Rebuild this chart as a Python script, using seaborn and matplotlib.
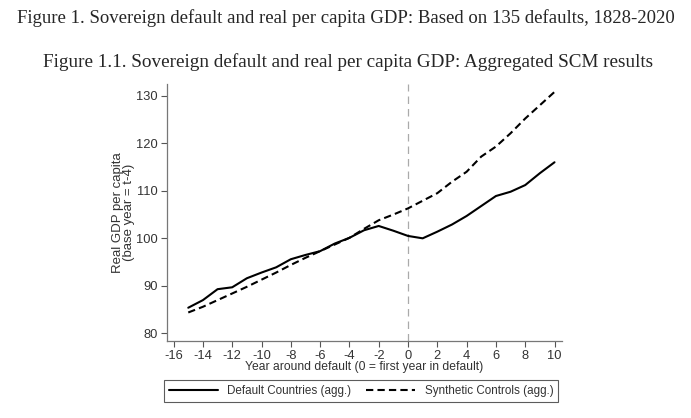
import numpy as np
import pandas as pd
import matplotlib
matplotlib.use("Agg")
import matplotlib.pyplot as plt
import seaborn as sns

# ---- Data ------------------------------------------------------------------
years = list(range(-15, 11))
default_countries = [
    85.4, 87.0, 89.3, 89.7, 91.6, 92.8, 93.9, 95.6, 96.5, 97.3, 98.9, 100.1,
    101.7, 102.6, 101.6, 100.5, 100.0, 101.4, 102.9, 104.7, 106.8, 108.9,
    109.8, 111.2, 113.7, 116.0,
]
synthetic_controls = [
    84.4, 85.6, 87.0, 88.4, 89.8, 91.3, 92.8, 94.4, 95.9, 97.3, 98.7, 100.1,
    102.0, 103.8, 105.0, 106.3, 107.9, 109.5, 111.9, 114.0, 117.2, 119.3,
    122.1, 125.2, 128.0, 130.8,
]
x_ticks = list(range(-16, 11, 2))
y_ticks = [80, 90, 100, 110, 120, 130]

df = pd.DataFrame({
    "year": years * 2,
    "gdp": default_countries + synthetic_controls,
    "series": ["Default Countries (agg.)"] * len(years)
    + ["Synthetic Controls (agg.)"] * len(years),
})

# ---- Plot -------------------------------------------------------------------
sns.set_style("ticks")
plt.rcParams["font.family"] = ["Liberation Sans", "DejaVu Sans"]
plt.rcParams["axes.unicode_minus"] = False

fig = plt.figure(figsize=(6.91, 4.18), dpi=100)
ax = fig.add_axes([0.2417, 0.1842, 0.5716, 0.6148])

ax.axvline(0, color="#aaaaaa", linestyle=(0, (6, 4)), linewidth=0.9, zorder=1)

sns.lineplot(
    data=df, x="year", y="gdp", style="series",
    color="black", linewidth=1.5, ax=ax,
    dashes={"Default Countries (agg.)": "", "Synthetic Controls (agg.)": (3.5, 2)},
)

ax.set_xlim(-16.45, 10.51)
ax.set_ylim(78.4, 132.46)
ax.set_xticks(x_ticks)
ax.set_yticks(y_ticks)
ax.tick_params(colors="#555555", labelcolor="#333333", labelsize=9.3,
               length=4.5, width=0.8, direction="out", pad=2)
for side in ["top", "right"]:
    ax.spines[side].set_visible(False)
for side in ["left", "bottom"]:
    ax.spines[side].set_color("#777777")
    ax.spines[side].set_linewidth(0.9)

ax.set_xlabel("Year around default (0 = first year in default)",
              fontsize=8.7, color="#333333", labelpad=-1)
ax.set_ylabel("Real GDP per capita\n(base year = t-4)",
              fontsize=9.5, color="#333333", labelpad=1, linespacing=0.9)

handles, labels = ax.get_legend_handles_labels()
ax.get_legend().remove()
leg = fig.legend(
    handles, labels, ncol=2, loc="center", bbox_to_anchor=(361 / 691, 1 - 391 / 418),
    fontsize=8.4, frameon=True, fancybox=False, edgecolor="#333333",
    handlelength=4.2, columnspacing=1.3, borderpad=0.45, handletextpad=0.8,
)
leg.get_frame().set_linewidth(0.8)
for t in leg.get_texts():
    t.set_color("#333333")

fig.text(0.5, 1 - 18 / 418,
         "Figure 1. Sovereign default and real per capita GDP: Based on 135 defaults, 1828-2020",
         ha="center", va="center", fontsize=13.5, family=["Liberation Serif"])
fig.text(0.504, 1 - 62 / 418,
         "Figure 1.1. Sovereign default and real per capita GDP: Aggregated SCM results",
         ha="center", va="center", fontsize=13.8, family=["Liberation Serif"])

fig.savefig("out.png", dpi=100)
